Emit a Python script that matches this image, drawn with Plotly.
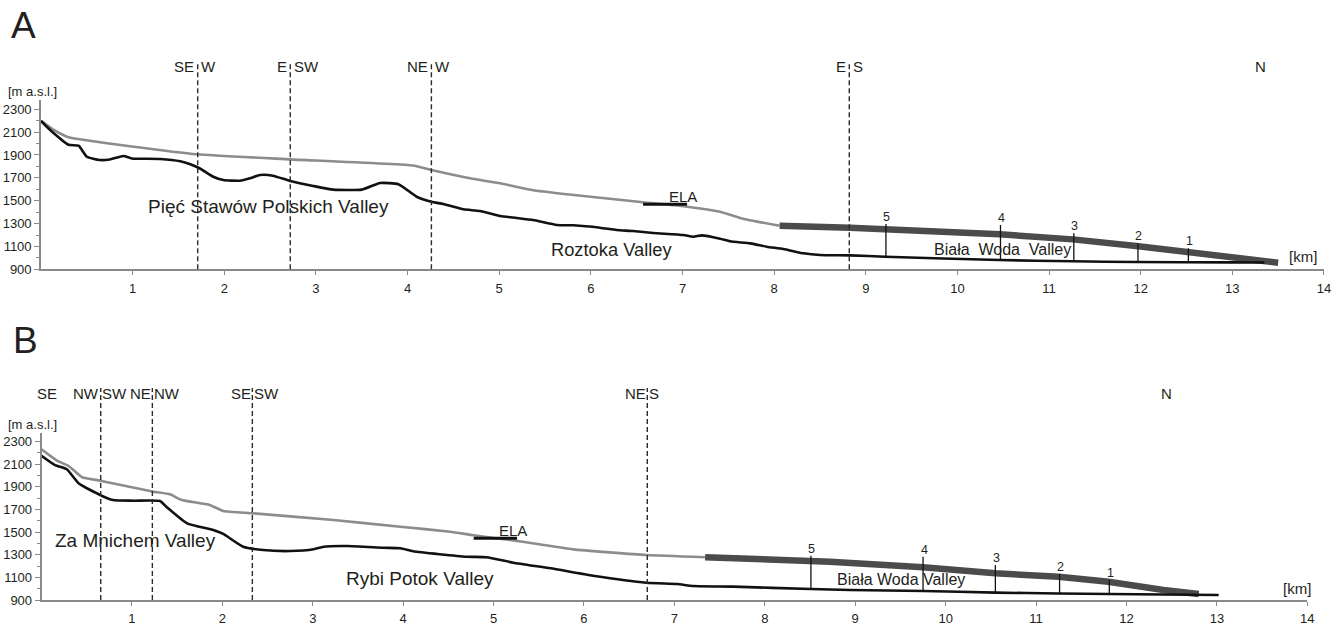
import plotly.graph_objects as go

# ---------------- Panel A data ----------------
a_surf_x = [0, 0.15, 0.30, 1.70, 2.72, 4.06, 4.26, 4.65, 5.01, 5.37, 5.74, 6.10, 6.57, 7.05, 7.41, 7.66, 8.06]
a_surf_y = [2200, 2115, 2055, 1906, 1862, 1808, 1769, 1701, 1652, 1591, 1556, 1526, 1486, 1448, 1404, 1343, 1281]

a_thick_x = [8.06, 8.83, 10.46, 11.26, 11.95, 12.52, 12.97, 13.50]
a_thick_y = [1281, 1264, 1206, 1162, 1104, 1049, 996, 958]

a_bed_x = [0, 0.10, 0.30, 0.41, 0.50, 0.64, 0.75, 0.90, 0.99, 1.30, 1.52, 1.63, 1.73, 1.88, 1.99, 2.17, 2.28,
           2.39, 2.53, 2.72, 2.97, 3.19, 3.50, 3.70, 3.90, 4.10, 4.26, 4.39, 4.61, 4.79, 5.01, 5.19, 5.37,
           5.63, 5.81, 6.10, 6.28, 6.46, 6.68, 7.01, 7.12, 7.21, 7.41, 7.52, 7.74, 7.92, 8.10, 8.32, 8.50,
           8.83, 9.21, 10.46, 11.26, 11.95, 12.97, 13.35]
a_bed_y = [2197, 2119, 1990, 1981, 1885, 1856, 1860, 1891, 1870, 1865, 1845, 1819, 1784, 1710, 1681, 1675, 1696,
           1725, 1719, 1673, 1629, 1597, 1597, 1655, 1644, 1535, 1491, 1471, 1425, 1410, 1366, 1349, 1331,
           1288, 1285, 1264, 1244, 1235, 1218, 1200, 1185, 1197, 1168, 1145, 1127, 1098, 1078, 1040, 1025,
           1022, 1010, 981, 970, 964, 961, 960]

a_mark_x = [9.22, 10.47, 11.27, 11.97, 12.52]
a_mark_bottom = [1010, 981, 970, 964, 962]
a_mark_top = [1296, 1288, 1215, 1127, 1084]
a_mark_label = ["5", "4", "3", "2", "1"]

a_ela_x = [6.57, 7.05]
a_ela_y = 1469

a_div_x = [1.71, 2.72, 4.26, 8.82]
a_div_left = ["SE", "E", "NE", "E"]
a_div_right = ["W", "SW", "W", "S"]
a_end_labels = [("NW", -0.03), ("N", 13.31)]

a_valleys = [("Pięć Stawów Polskich Valley", 2.48, 1448, 19),
             ("Roztoka Valley", 6.22, 1069, 18.3),
             ("Biała\u00a0 Woda\u00a0 Valley", 10.49, 1069, 16)]

# ---------------- Panel B data ----------------
b_surf_x = [0, 0.17, 0.30, 0.45, 0.65, 1.24, 1.42, 1.55, 1.86, 2.01, 2.33, 3.23, 3.97, 4.52, 4.78, 5.26, 5.88, 6.69, 7.34]
b_surf_y = [2232, 2132, 2085, 1985, 1955, 1858, 1835, 1784, 1740, 1687, 1667, 1607, 1548, 1504, 1472, 1422, 1348, 1298, 1278]

b_thick_x = [7.34, 8.72, 9.75, 10.55, 11.25, 11.80, 12.41, 12.80]
b_thick_y = [1278, 1239, 1189, 1136, 1106, 1062, 988, 953]

b_bed_x = [0, 0.15, 0.28, 0.41, 0.65, 0.79, 1.02, 1.31, 1.38, 1.61, 1.90, 2.01, 2.23, 2.45, 2.75, 3.01, 3.12,
           3.38, 3.78, 3.97, 4.11, 4.70, 4.92, 5.22, 5.63, 6.10, 6.69, 7.03, 7.21, 7.65, 8.51, 8.94, 9.75,
           10.55, 11.25, 11.80, 13.02]
b_bed_y = [2176, 2093, 2056, 1932, 1828, 1784, 1778, 1775, 1725, 1578, 1519, 1484, 1371, 1342, 1333, 1348, 1371,
           1377, 1362, 1357, 1331, 1283, 1278, 1230, 1180, 1115, 1053, 1041, 1024, 1018, 997, 988, 980,
           965, 958, 953, 944]

b_mark_x = [8.51, 9.75, 10.55, 11.26, 11.81]
b_mark_bottom = [997, 980, 965, 958, 953]
b_mark_top = [1292, 1283, 1209, 1130, 1077]
b_mark_label = ["5", "4", "3", "2", "1"]

b_ela_x = [4.78, 5.26]
b_ela_y = 1445

b_div_x = [0.655, 1.226, 2.332, 6.70]
b_div_left = ["NW", "NE", "SE", "NE"]
b_div_right = ["SW", "NW", "SW", "S"]
b_end_labels = [("SE", 0.06), ("N", 12.44)]

b_valleys = [("Za Mnichem Valley", 1.045, 1430, 19),
             ("Rybi Potok Valley", 4.19, 1092, 19),
             ("Biała Woda Valley", 9.51, 1083, 16)]

x_ticks = list(range(1, 15))

# ---------------- styling ----------------
FONT = "Arial, 'Liberation Sans', sans-serif"
TXT = "#231f20"
AXC = "#8a8a8a"
SURF_C = "#8c8c8c"
THICK_C = "#4b4b4b"
BED_C = "#111111"

fig = go.Figure()

panels = [
    dict(xa="x", ya="y", surf=(a_surf_x, a_surf_y), thick=(a_thick_x, a_thick_y), bed=(a_bed_x, a_bed_y),
         mark=(a_mark_x, a_mark_bottom, a_mark_top, a_mark_label), ela=(a_ela_x, a_ela_y),
         div=(a_div_x, a_div_left, a_div_right), ends=a_end_labels, valleys=a_valleys,
         div_top=1.225, lab_y=1.2015, gap=3.5, unit_y=1.05, km=(0.9836, 0.0745)),
    dict(xa="x2", ya="y2", surf=(b_surf_x, b_surf_y), thick=(b_thick_x, b_thick_y), bed=(b_bed_x, b_bed_y),
         mark=(b_mark_x, b_mark_bottom, b_mark_top, b_mark_label), ela=(b_ela_x, b_ela_y),
         div=(b_div_x, b_div_left, b_div_right), ends=b_end_labels, valleys=b_valleys,
         div_top=1.266, lab_y=1.2366, gap=1.5, unit_y=1.05, km=(0.9916, 0.07)),
]

shapes = []
annotations = []


def ann(**kw):
    kw.setdefault("showarrow", False)
    kw.setdefault("borderpad", 0)
    kw.setdefault("borderwidth", 0)
    annotations.append(kw)


for p in panels:
    xa, ya = p["xa"], p["ya"]
    # upper (ice surface) thin grey line
    fig.add_trace(go.Scatter(x=p["surf"][0], y=p["surf"][1], mode="lines", xaxis=xa, yaxis=ya,
                             line=dict(color=SURF_C, width=2.6, shape="spline", smoothing=0.4),
                             hoverinfo="skip", showlegend=False))
    # thick dark lower part
    fig.add_trace(go.Scatter(x=p["thick"][0], y=p["thick"][1], mode="lines", xaxis=xa, yaxis=ya,
                             line=dict(color=THICK_C, width=6.5), hoverinfo="skip", showlegend=False))
    # bedrock
    fig.add_trace(go.Scatter(x=p["bed"][0], y=p["bed"][1], mode="lines", xaxis=xa, yaxis=ya,
                             line=dict(color=BED_C, width=2.6, shape="spline", smoothing=0.5),
                             hoverinfo="skip", showlegend=False))
    # numbered vertical markers
    mx, mb, mt, ml = p["mark"]
    vx, vy = [], []
    for x, b, t in zip(mx, mb, mt):
        vx += [x, x, None]
        vy += [b, t, None]
    fig.add_trace(go.Scatter(x=vx, y=vy, mode="lines", xaxis=xa, yaxis=ya,
                             line=dict(color=BED_C, width=1.3), hoverinfo="skip", showlegend=False))
    for x, t, lab in zip(mx, mt, ml):
        ann(x=x, y=t, xref=xa, yref=ya, text=lab, xanchor="center", yanchor="bottom", xshift=1,
            font=dict(size=12.5, color=TXT, family=FONT))
    # ELA
    ex, ey = p["ela"]
    fig.add_trace(go.Scatter(x=ex, y=[ey, ey], mode="lines", xaxis=xa, yaxis=ya,
                             line=dict(color=BED_C, width=3), hoverinfo="skip", showlegend=False))
    ann(x=(ex[0] + ex[1]) / 2, y=ey, xref=xa, yref=ya, text="ELA", xanchor="left", yanchor="bottom",
        xshift=4, yshift=-1, font=dict(size=15, color=TXT, family=FONT))
    # dashed divides with direction labels
    dx, dl, dr = p["div"]
    for x, l, r in zip(dx, dl, dr):
        shapes.append(dict(type="line", xref=xa, yref=ya + " domain", x0=x, x1=x, y0=0, y1=p["div_top"],
                           line=dict(color="#2a2a2a", width=1.4, dash="5px,3px")))
        ann(x=x, y=p["lab_y"], xref=xa, yref=ya + " domain", text=l, xanchor="right", yanchor="middle",
            xshift=-p["gap"], font=dict(size=15, color=TXT, family=FONT))
        ann(x=x, y=p["lab_y"], xref=xa, yref=ya + " domain", text=r, xanchor="left", yanchor="middle",
            xshift=p["gap"], font=dict(size=15, color=TXT, family=FONT))
    for lab, x in p["ends"]:
        ann(x=x, y=p["lab_y"], xref=xa, yref=ya + " domain", text=lab, xanchor="center", yanchor="middle",
            font=dict(size=15, color=TXT, family=FONT))
    # valley names
    for name, x, y, s in p["valleys"]:
        ann(x=x, y=y, xref=xa, yref=ya, text=name, xanchor="center", yanchor="middle",
            font=dict(size=s, color=TXT, family=FONT))
    # unit labels
    ann(x=-0.007, y=p["unit_y"], xref=xa + " domain", yref=ya + " domain", text="[m a.s.l.]",
        xanchor="center", yanchor="middle", font=dict(size=13, color=TXT, family=FONT))
    ann(x=p["km"][0], y=p["km"][1], xref=xa + " domain", yref=ya + " domain", text="[km]",
        xanchor="center", yanchor="middle", font=dict(size=15, color=TXT, family=FONT))

# panel letters
ann(x=0.0172, y=0.959, xref="paper", yref="paper", text="A", xanchor="center", yanchor="middle",
    font=dict(size=37, color=TXT, family=FONT))
ann(x=0.0193, y=0.4547, xref="paper", yref="paper", text="B", xanchor="center", yanchor="middle",
    font=dict(size=37, color=TXT, family=FONT))


def xaxis(domain, anchor):
    return dict(domain=domain, anchor=anchor, range=[0, 14], showline=True, linecolor=AXC, linewidth=1.6,
                ticks="outside", ticklen=4, tickwidth=1.4, tickcolor=AXC, tickmode="array",
                tickvals=x_ticks, showgrid=False, zeroline=False, ticklabelstandoff=2, automargin=False,
                tickfont=dict(size=13, color=TXT, family=FONT))


def yaxis(domain, anchor):
    return dict(domain=domain, anchor=anchor, range=[900, 2380], showline=True, linecolor=AXC, linewidth=1.6,
                ticks="outside", ticklen=5, tickwidth=1.4, tickcolor=AXC, tickmode="linear", tick0=900,
                dtick=200, showgrid=False, zeroline=False, automargin=False,
                minor=dict(ticks="outside", ticklen=3, dtick=100, tick0=900, tickcolor=AXC, tickwidth=1.2,
                           showgrid=False),
                tickfont=dict(size=13, color=TXT, family=FONT))


fig.update_layout(
    width=1341, height=625, autosize=False, margin=dict(l=0, r=0, t=0, b=0, pad=0, autoexpand=False),
    paper_bgcolor="white", plot_bgcolor="white",
    xaxis=xaxis([0.03057, 0.98732], "y"),
    yaxis=yaxis([0.5691, 0.8398], "x"),
    xaxis2=xaxis([0.03095, 0.97487], "y2"),
    yaxis2=yaxis([0.04, 0.3078], "x2"),
    shapes=shapes, annotations=annotations, showlegend=False,
    font=dict(family=FONT, color=TXT),
)

fig.write_html(
    "out.html",
    config={"displayModeBar": False},
    post_script="document.documentElement.style.margin='0';document.body.style.margin='0';"
                "document.body.style.overflow='hidden';",
)
